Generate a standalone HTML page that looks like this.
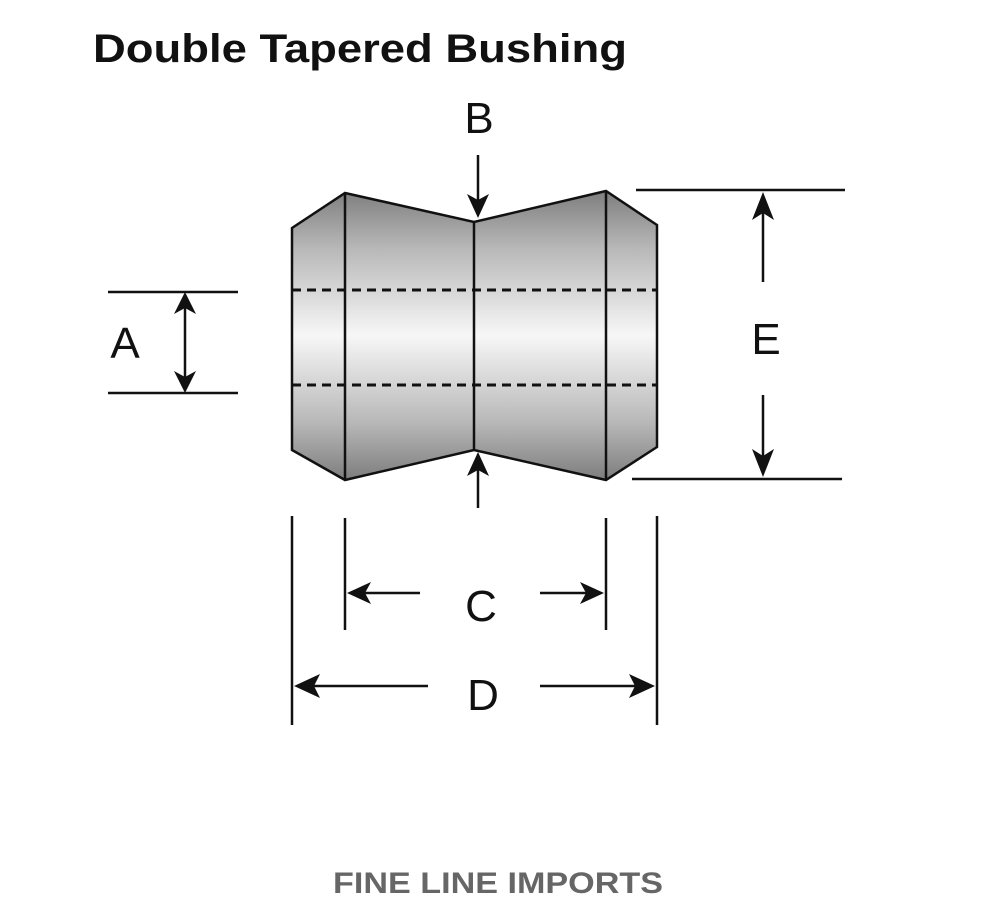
<!DOCTYPE html>
<html><head><meta charset="utf-8">
<style>
html,body{margin:0;padding:0;background:#fff;width:1000px;height:910px;overflow:hidden}
svg{display:block}
</style></head>
<body>
<svg width="1000" height="910" viewBox="0 0 1000 910" xmlns="http://www.w3.org/2000/svg">
<defs>
<linearGradient id="g" x1="0" y1="0" x2="0" y2="1">
<stop offset="0" stop-color="#7e7e7e"/>
<stop offset="0.2" stop-color="#b8b8b8"/>
<stop offset="0.5" stop-color="#f7f7f7"/>
<stop offset="0.8" stop-color="#b8b8b8"/>
<stop offset="1" stop-color="#7e7e7e"/>
</linearGradient>
</defs>
<text x="93" y="62" font-family="Liberation Sans, sans-serif" font-weight="bold" font-size="40" fill="#111" textLength="534" lengthAdjust="spacingAndGlyphs">Double Tapered Bushing</text>

<polygon points="292,228 345,193 474,222 606,191 657,225 657,447 606,480 474,450 345,480 292,450" fill="url(#g)" stroke="#111" stroke-width="2.5"/>
<g stroke="#111" stroke-width="2.5">
<line x1="345" y1="193" x2="345" y2="480"/>
<line x1="474" y1="222" x2="474" y2="450"/>
<line x1="606" y1="191" x2="606" y2="480"/>
</g>
<g stroke="#111" stroke-width="3" stroke-dasharray="9,6">
<line x1="292" y1="290" x2="657" y2="290"/>
<line x1="292" y1="385" x2="657" y2="385"/>
</g>

<g stroke="#111" stroke-width="2.5" fill="none">
<line x1="108" y1="292" x2="238" y2="292"/>
<line x1="108" y1="393" x2="238" y2="393"/>
<line x1="185" y1="305" x2="185" y2="380"/>
<line x1="478" y1="155" x2="478" y2="205"/>
<line x1="478" y1="465" x2="478" y2="508"/>
<line x1="636" y1="190" x2="845" y2="190"/>
<line x1="632" y1="479" x2="842" y2="479"/>
<line x1="763" y1="210" x2="763" y2="282"/>
<line x1="763" y1="395" x2="763" y2="462"/>
<line x1="345" y1="518" x2="345" y2="630"/>
<line x1="606" y1="518" x2="606" y2="630"/>
<line x1="362" y1="593" x2="420" y2="593"/>
<line x1="540" y1="593" x2="590" y2="593"/>
<line x1="292" y1="516" x2="292" y2="725"/>
<line x1="657" y1="516" x2="657" y2="725"/>
<line x1="308" y1="686" x2="428" y2="686"/>
<line x1="540" y1="686" x2="640" y2="686"/>
</g>
<g fill="#111">
<polygon points="185,292 174,314 185,308 196,314"/>
<polygon points="185,393 174,371 185,377 196,371"/>
<polygon points="478,218 467,194 478,200 489,194"/>
<polygon points="478,452 467,476 478,470 489,476"/>
<polygon points="763,192 752,220 763,213 774,220"/>
<polygon points="763,477 752,449 763,456 774,449"/>
<polygon points="347,593 371,582 365,593 371,604"/>
<polygon points="604,593 580,582 586,593 580,604"/>
<polygon points="294,686 320,674 314,686 320,698"/>
<polygon points="655,686 629,674 635,686 629,698"/>
</g>

<g font-family="Liberation Sans, sans-serif" font-size="44" fill="#111" text-anchor="middle">
<text x="125" y="358">A</text>
<text x="479" y="133">B</text>
<text x="766" y="354">E</text>
<text x="481" y="621">C</text>
<text x="483" y="710">D</text>
</g>

<text x="333" y="893" font-family="Liberation Sans, sans-serif" font-weight="bold" font-size="30" fill="#666" textLength="330" lengthAdjust="spacingAndGlyphs">FINE LINE IMPORTS</text>
</svg>
</body></html>
